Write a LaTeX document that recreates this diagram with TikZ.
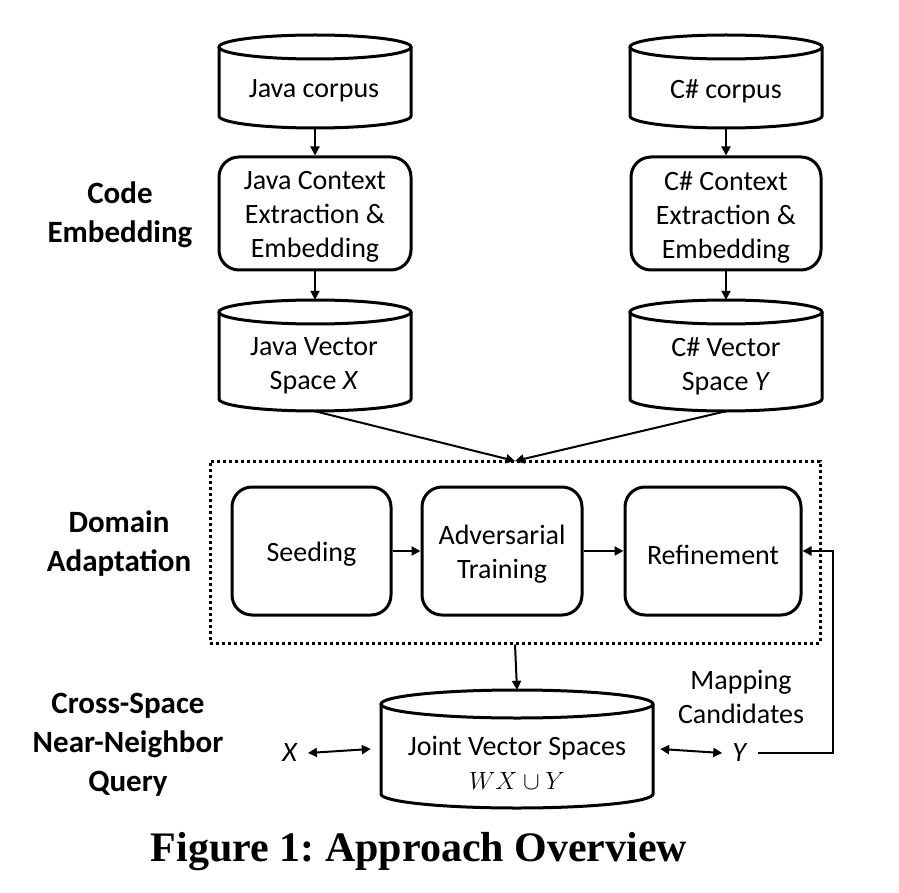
\documentclass[tikz,border=0pt]{standalone}
\usepackage{fontspec}
\setmainfont{Carlito}
\newfontfamily\capfont{Liberation Serif}
\usetikzlibrary{arrows.meta,calc}
\frenchspacing
\newcommand\mycyl[5]{%
  \draw[cylline] (#1,#2+#5) -- (#1,#4-#5)
     arc[start angle=180,end angle=360,x radius={(#3-#1)/2*1pt},y radius=#5pt] -- (#3,#2+#5);
  \draw[cylline] ({(#1+#3)/2},#2+#5) ellipse[x radius={(#3-#1)/2*1pt},y radius=#5pt];}
\newcommand\btxt[2]{\parbox{#1}{\centering\vspace*{7pt}#2}}
\begin{document}
\begin{tikzpicture}[x=1pt,y=-1pt,
  cylline/.style={line width=3pt},
  txt/.style={font=\fontsize{28}{34}\selectfont,align=center,inner sep=0pt},
  lab/.style={font=\fontsize{31}{39}\selectfont\bfseries,align=center,inner sep=0pt},
  procbox/.style={draw,line width=3pt,rounded corners=20pt,txt},
  arr/.style={line width=2pt,-{Triangle[length=9pt,width=9pt]}},
  dbl/.style={line width=2pt,{Triangle[length=9pt,width=9pt]}-{Triangle[length=9pt,width=9pt]}}]
\useasboundingbox[fill=white] (0,0) rectangle (899,893);
% cylinders
\mycyl{219}{35}{411}{128}{12}
\mycyl{630}{35}{822}{128}{12}
\mycyl{219}{300}{411}{411}{12}
\mycyl{630}{300}{822}{411}{12}
\mycyl{381}{690}{653}{808}{14}
\node[txt,minimum width=192pt,minimum height=93pt] (jcorp) at (315,81.5) {};
\node[txt] at (314,91) {Java corpus};
\node[txt,minimum width=192pt,minimum height=93pt] (ccorp) at (726,81.5) {};
\node[txt] at (726,91) {C\# corpus};
\node[txt,minimum width=192pt,minimum height=111pt] (jvec) at (315,355.5) {};
\node[txt] at (314,366) {Java Vector\\Space \textit{X}};
\node[txt,minimum width=192pt,minimum height=111pt] (cvec) at (726,355.5) {};
\node[txt] at (726,366) {C\# Vector\\Space \textit{Y}};
\node[txt,minimum width=272pt,minimum height=118pt] (joint) at (517,749) {};
\node[txt] at (517,763) {Joint Vector Spaces\\$WX\cup Y$};
% context boxes
\node[procbox,minimum width=192pt,minimum height=113pt] (jctx) at (315,213.5) {\btxt{190pt}{Java Context\\Extraction \&\\Embedding}};
\node[procbox,minimum width=190pt,minimum height=113pt] (cctx) at (726,213.5) {\btxt{188pt}{C\# Context\\Extraction \&\\Embedding}};
% domain adaptation
\node[draw,line width=3pt,dash pattern=on 3pt off 3pt,minimum width=610pt,minimum height=182pt] (dabox) at (515,552) {};
\node[procbox,minimum width=159pt,minimum height=128pt] (seed) at (311.5,551) {\btxt{150pt}{Seeding}};
\node[procbox,minimum width=160pt,minimum height=128pt] (adv) at (502,551) {\btxt{158pt}{Adversarial\\Training}};
\node[procbox,minimum width=176pt,minimum height=128pt] (refine) at (713,551) {\btxt{170pt}{Refinement}};
% side labels
\node[lab] at (120,215) {Code\\Embedding};
\node[lab] at (119,544) {Domain\\Adaptation};
\node[lab] at (128,745) {Cross-Space\\Near-Neighbor\\Query};
% query items
\node[txt] (lx) at (290,753) {\textit{X}};
\node[txt] (ly) at (740,753) {\textit{Y}};
\node[txt] (mapc) at (741,697) {Mapping\\Candidates};
% connectors
\draw[arr] (jcorp.south) -- (jctx.north);
\draw[arr] (ccorp.south) -- (cctx.north);
\draw[arr] (jctx.south) -- (jvec.north);
\draw[arr] (cctx.south) -- (cvec.north);
\coordinate (merge) at (515,461);
\draw[arr] (jvec.south) -- (merge);
\draw[arr] (cvec.south) -- (merge);
\draw[arr] (seed.east) -- (adv.west);
\draw[arr] (adv.east) -- (refine.west);
\draw[arr] (dabox.south) -- (joint.north);
\draw[dbl] ([xshift=10pt]lx.east) -- ([xshift=-10pt]joint.west);
\draw[dbl] ([xshift=7pt]joint.east) -- ([xshift=-10pt]ly.west);
\coordinate (fb) at (833,551);
\draw[arr] ([xshift=10pt]ly.east) -| (fb) -- (refine.east);
% caption
\node[font=\capfont\fontsize{42}{50}\selectfont\bfseries,inner sep=0pt] (cap) at (419,852) {Figure 1: Approach Overview};
\end{tikzpicture}
\end{document}
